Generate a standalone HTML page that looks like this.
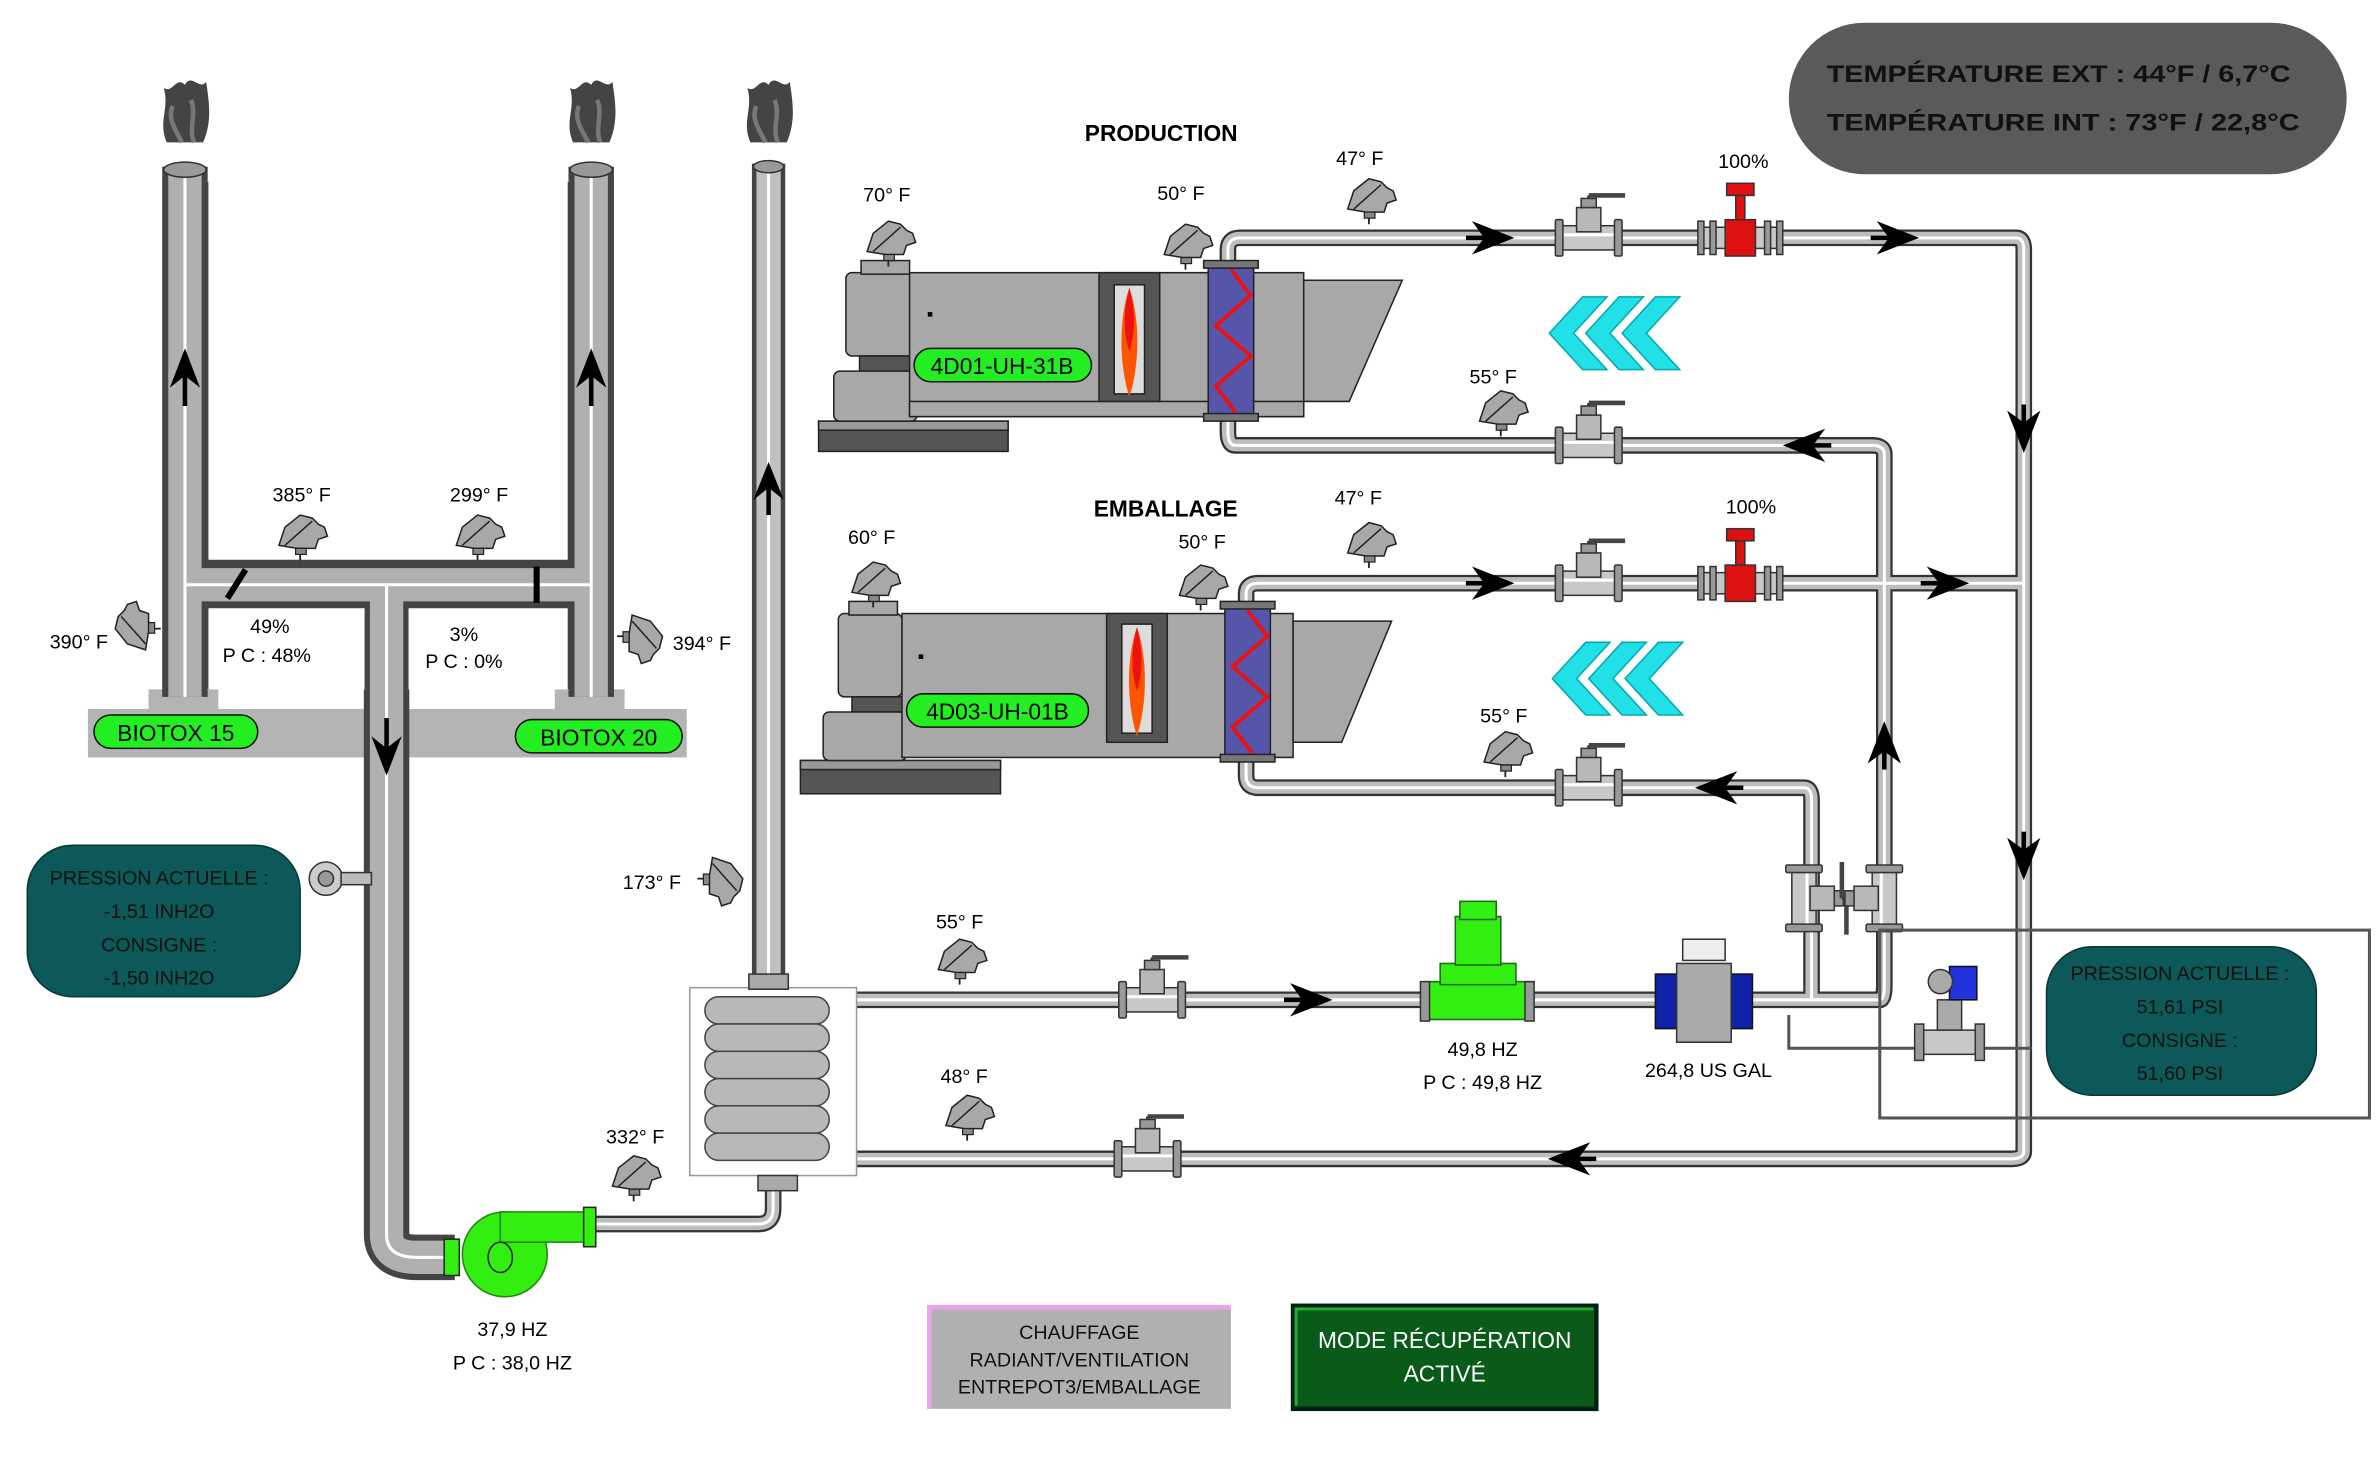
<!DOCTYPE html>
<html><head><meta charset="utf-8"><style>
html,body{margin:0;padding:0;background:#fff}
svg{display:block}
text{font-family:"Liberation Sans",sans-serif}
</style></head><body>
<svg width="2377" height="1477" viewBox="0 0 1568 975" preserveAspectRatio="none" xmlns="http://www.w3.org/2000/svg">
<defs>
<path id="p" d="M390,808 H500 Q510,808 510,798 V780 M565,660 H1240 Q1243,660 1243,650 V300 Q1243,294 1235,294 H815 Q810,294 810,285 V275 M810,175 V165 Q810,157 818,157 H1330 Q1335,157 1335,165 V760 Q1335,765 1327,765 H565 M822,500 V512 Q822,520 830,520 H1190 Q1195,520 1195,528 V660 M822,400 V392 Q822,385 830,385 H1335"/>
<g id="sensor">
<path d="M-14,8 L-10,-4 L0,-12 L8,-10 L12,-6 L16,-4 L18,2 L12,4 L10,10 L-2,10 Z" fill="#a8a8a8" stroke="#222" stroke-width="1"/>
<line x1="-10" y1="8" x2="8" y2="-8" stroke="#222" stroke-width="1"/>
<rect x="-3" y="10" width="7" height="4" fill="#888" stroke="#222" stroke-width="0.8"/>
<line x1="0" y1="14" x2="0" y2="18" stroke="#222" stroke-width="1.2"/>
</g>
<g id="valve">
<rect x="-20" y="-8" width="40" height="16" fill="#c8c8c8" stroke="#333"/>
<line x1="-20" y1="-2" x2="20" y2="-2" stroke="#fff" stroke-width="2"/>
<rect x="-22" y="-12" width="5" height="24" rx="1" fill="#999" stroke="#333"/>
<rect x="17" y="-12" width="5" height="24" rx="1" fill="#999" stroke="#333"/>
<rect x="-8" y="-20" width="16" height="16" fill="#b8b8b8" stroke="#333"/>
<rect x="-5" y="-26" width="10" height="6" fill="#999" stroke="#333"/>
<line x1="0" y1="-26" x2="0" y2="-28" stroke="#333" stroke-width="2"/>
<line x1="0" y1="-28" x2="24" y2="-28" stroke="#444" stroke-width="3"/>
</g>
<g id="redvalve">
<rect x="-26" y="-7" width="52" height="14" fill="#c8c8c8" stroke="#333"/>
<rect x="-28" y="-11" width="4" height="22" fill="#999" stroke="#333"/>
<rect x="-20" y="-11" width="4" height="22" fill="#999" stroke="#333"/>
<rect x="16" y="-11" width="4" height="22" fill="#999" stroke="#333"/>
<rect x="24" y="-11" width="4" height="22" fill="#999" stroke="#333"/>
<rect x="-10" y="-12" width="20" height="24" fill="#dd1111" stroke="#333"/>
<rect x="-3" y="-28" width="6" height="16" fill="#dd1111" stroke="#333"/>
<rect x="-9" y="-36" width="18" height="8" fill="#dd1111" stroke="#333"/>
</g>
<g id="arR"><polygon points="-14,-11 14,0 -14,11 -6,0" fill="#000"/><line x1="-18" y1="0" x2="0" y2="0" stroke="#000" stroke-width="3"/></g>
<g id="smoke"><path d="M-12,44 C-18,30 -10,22 -14,8 C-8,12 -6,0 0,6 C4,-2 10,10 14,4 C16,18 18,30 12,44 Z" fill="#444"/><path d="M-8,20 C-12,28 -6,36 -2,44 M4,16 C8,26 2,34 6,44" stroke="#777" stroke-width="3" fill="none"/></g>
<g id="chev"><polygon points="0,24 22,0 38,0 16,24 38,48 22,48" fill="#22e0e8" stroke="#0aa" stroke-width="1"/></g>
</defs>

<!-- gray base band -->
<rect x="58" y="468" width="395" height="32" fill="#b4b4b4"/>
<rect x="98" y="455" width="46" height="14" fill="#b4b4b4"/>
<rect x="366" y="455" width="46" height="14" fill="#b4b4b4"/>

<!-- ducts -->
<g fill="none" stroke-linejoin="miter">
<path d="M122,460 V110 M390,460 V110 M122,386 H390 M255,386 V815 Q255,830 275,830 H300" stroke="#444" stroke-width="30"/>
<path d="M122,460 V110 M390,460 V110 M122,386 H390 M255,386 V815 Q255,830 275,830 H300" stroke="#b0b0b0" stroke-width="22"/>
<path d="M122,460 V110 M390,460 V110 M122,386 H390 M255,386 V815 Q255,830 275,830 H300" stroke="#fff" stroke-width="2"/>
</g>
<rect x="136" y="400" width="106" height="55" fill="#fff"/>
<rect x="268" y="400" width="108" height="55" fill="#fff"/>
<path d="M136,455 V400 H242 V455 M268,455 V400 H376 V455" fill="none" stroke="#444" stroke-width="3"/>
<rect x="136" y="120" width="240" height="251" fill="#fff"/>
<path d="M136,120 V371 H376 V120" fill="none" stroke="#444" stroke-width="3"/>
<ellipse cx="122" cy="112" rx="14" ry="5" fill="#999" stroke="#333"/>
<ellipse cx="390" cy="112" rx="14" ry="5" fill="#999" stroke="#333"/>
<line x1="150" y1="395" x2="162" y2="376" stroke="#000" stroke-width="4"/>
<line x1="354" y1="374" x2="354" y2="398" stroke="#000" stroke-width="4"/>

<!-- third stack -->
<g fill="none">
<path d="M507,648 V108" stroke="#444" stroke-width="22"/>
<path d="M507,648 V108" stroke="#c0c0c0" stroke-width="16"/>
<path d="M507,648 V108" stroke="#fff" stroke-width="2"/>
</g>
<ellipse cx="507" cy="110" rx="10" ry="4" fill="#999" stroke="#333"/>

<use href="#smoke" x="122" y="50"/>
<use href="#smoke" x="390" y="50"/>
<use href="#smoke" x="507" y="50"/>

<g fill="#000"><polygon points="122,230 112,256 122,248 132,256"/><rect x="120.5" y="248" width="3" height="20"/>
<polygon points="390,230 380,256 390,248 400,256"/><rect x="388.5" y="248" width="3" height="20"/>
<polygon points="507,305 497,330 507,322 517,330"/><rect x="505.5" y="322" width="3" height="18"/>
<polygon points="255,512 245,486 255,494 265,486"/><rect x="253.5" y="474" width="3" height="20"/></g>

<rect x="62" y="472" width="108" height="22" rx="11" fill="#22ee22" stroke="#111"/>
<text x="116" y="489" font-size="15" text-anchor="middle">BIOTOX 15</text>
<rect x="340" y="475" width="110" height="22" rx="11" fill="#22ee22" stroke="#111"/>
<text x="395" y="492" font-size="15" text-anchor="middle">BIOTOX 20</text>

<!-- process pipes -->
<g fill="none" stroke-linejoin="round">
<use href="#p" stroke="#333" stroke-width="11"/>
<use href="#p" stroke="#bdbdbd" stroke-width="8"/>
<use href="#p" stroke="#fff" stroke-width="2"/>
</g>
<path d="M1180,670 V692 H1340" fill="none" stroke="#555" stroke-width="2"/>

<!-- pump -->
<circle cx="333" cy="828" r="28" fill="#33ee11" stroke="#228811"/>
<rect x="330" y="800" width="60" height="20" fill="#33ee11" stroke="#228811"/>
<rect x="293" y="818" width="10" height="24" fill="#33ee11" stroke="#222"/>
<rect x="385" y="797" width="8" height="26" fill="#33ee11" stroke="#222"/>
<ellipse cx="330" cy="830" rx="8" ry="10" fill="#33ee11" stroke="#222"/>
<text x="338" y="882" font-size="13" text-anchor="middle">37,9 HZ</text>
<text x="338" y="904" font-size="13" text-anchor="middle">P C : 38,0 HZ</text>

<!-- heat exchanger -->
<rect x="455" y="652" width="110" height="124" fill="#fff" stroke="#999"/>
<g fill="#b8b8b8" stroke="#444">
<rect x="465" y="658" width="82" height="18" rx="9"/><rect x="465" y="676" width="82" height="18" rx="9"/>
<rect x="465" y="694" width="82" height="18" rx="9"/><rect x="465" y="712" width="82" height="18" rx="9"/>
<rect x="465" y="730" width="82" height="18" rx="9"/><rect x="465" y="748" width="82" height="18" rx="9"/>
</g>
<rect x="494" y="643" width="26" height="10" fill="#aaa" stroke="#333"/>
<rect x="500" y="776" width="26" height="10" fill="#aaa" stroke="#333"/>

<!-- Production unit -->
<g stroke="#222" stroke-width="1">
<rect x="540" y="278" width="125" height="20" fill="#555"/>
<rect x="540" y="278" width="125" height="6" fill="#999"/>
<rect x="558" y="180" width="45" height="55" rx="4" fill="#a8a8a8"/>
<rect x="567" y="235" width="35" height="10" fill="#555"/>
<rect x="550" y="245" width="55" height="33" rx="4" fill="#a8a8a8"/>
<rect x="568" y="172" width="32" height="9" fill="#a8a8a8"/>
<rect x="600" y="180" width="260" height="95" fill="#a8a8a8"/>
<rect x="600" y="265" width="260" height="10" fill="#a8a8a8"/>
<polygon points="860,185 925,185 890,265 860,265" fill="#a8a8a8"/>
<rect x="725" y="180" width="40" height="85" fill="#555"/>
<rect x="735" y="188" width="20" height="72" fill="#ddd"/>
<rect x="797" y="175" width="30" height="100" fill="#5555aa"/>
<rect x="794" y="172" width="36" height="5" fill="#777"/>
<rect x="794" y="273" width="36" height="5" fill="#777"/>
</g>
<path d="M745,190 C738,210 738,240 745,262 C752,240 752,210 745,190Z" fill="#ff5500"/>
<path d="M745,190 C741,205 741,220 745,232 C749,220 749,205 745,190Z" fill="#ee1111"/>
<path d="M812,178 L825,195 L802,215 L825,235 L802,255 L815,272" fill="none" stroke="#ee1111" stroke-width="2.5"/>
<rect x="612" y="206" width="3" height="3" fill="#000"/>
<rect x="603" y="230" width="117" height="22" rx="11" fill="#22ee22" stroke="#111"/>
<text x="661" y="247" font-size="15" text-anchor="middle">4D01-UH-31B</text>

<!-- Emballage unit -->
<g stroke="#222" stroke-width="1">
<rect x="528" y="502" width="132" height="22" fill="#555"/>
<rect x="528" y="502" width="132" height="6" fill="#999"/>
<rect x="553" y="405" width="42" height="55" rx="4" fill="#a8a8a8"/>
<rect x="562" y="460" width="33" height="10" fill="#555"/>
<rect x="543" y="470" width="55" height="32" rx="4" fill="#a8a8a8"/>
<rect x="560" y="397" width="32" height="9" fill="#a8a8a8"/>
<rect x="595" y="405" width="258" height="95" fill="#a8a8a8"/>
<polygon points="853,410 918,410 885,490 853,490" fill="#a8a8a8"/>
<rect x="730" y="405" width="40" height="85" fill="#555"/>
<rect x="740" y="412" width="20" height="72" fill="#ddd"/>
<rect x="808" y="400" width="30" height="100" fill="#5555aa"/>
<rect x="805" y="397" width="36" height="5" fill="#777"/>
<rect x="805" y="498" width="36" height="5" fill="#777"/>
</g>
<path d="M750,414 C743,434 743,464 750,486 C757,464 757,434 750,414Z" fill="#ff5500"/>
<path d="M750,414 C746,429 746,444 750,456 C754,444 754,429 750,414Z" fill="#ee1111"/>
<path d="M823,403 L836,420 L813,440 L836,460 L813,480 L826,497" fill="none" stroke="#ee1111" stroke-width="2.5"/>
<rect x="606" y="432" width="3" height="3" fill="#000"/>
<rect x="598" y="458" width="120" height="22" rx="11" fill="#22ee22" stroke="#111"/>
<text x="658" y="475" font-size="15" text-anchor="middle">4D03-UH-01B</text>

<text x="766" y="93" font-size="15" font-weight="bold" text-anchor="middle">PRODUCTION</text>
<text x="769" y="341" font-size="15" font-weight="bold" text-anchor="middle">EMBALLAGE</text>

<use href="#chev" x="1022" y="196"/><use href="#chev" x="1046" y="196"/><use href="#chev" x="1070" y="196"/>
<use href="#chev" x="1024" y="424"/><use href="#chev" x="1048" y="424"/><use href="#chev" x="1072" y="424"/>

<use href="#valve" x="1048" y="157"/>
<use href="#valve" x="1048" y="294"/>
<use href="#valve" x="1048" y="385"/>
<use href="#valve" x="1048" y="520"/>
<use href="#valve" x="760" y="660"/>
<use href="#valve" x="757" y="765"/>
<use href="#redvalve" x="1148" y="157"/>
<use href="#redvalve" x="1148" y="385"/>
<g transform="translate(1190,593) rotate(90)"><use href="#valve"/></g>
<g transform="translate(1243,593) rotate(-90)"><use href="#valve"/></g>

<use href="#arR" x="985" y="157"/>
<use href="#arR" x="1252" y="157"/>
<use href="#arR" x="985" y="385"/>
<use href="#arR" x="1285" y="385"/>
<use href="#arR" x="865" y="660"/>
<use href="#arR" transform="translate(1190,294) rotate(180)"/>
<use href="#arR" transform="translate(1132,520) rotate(180)"/>
<use href="#arR" transform="translate(1035,765) rotate(180)"/>
<use href="#arR" transform="translate(1335,285) rotate(90)"/>
<use href="#arR" transform="translate(1335,567) rotate(90)"/>
<use href="#arR" transform="translate(1243,490) rotate(-90)"/>

<g stroke="#1a6a1a">
<rect x="940" y="648" width="70" height="25" fill="#33ee11"/>
<rect x="950" y="636" width="50" height="14" fill="#33ee11"/>
<rect x="960" y="605" width="30" height="32" fill="#33ee11"/>
<rect x="963" y="595" width="24" height="12" fill="#33ee11"/>
</g>
<rect x="937" y="648" width="6" height="26" fill="#999" stroke="#333"/>
<rect x="1006" y="648" width="6" height="26" fill="#999" stroke="#333"/>
<text x="978" y="697" font-size="13" text-anchor="middle">49,8 HZ</text>
<text x="978" y="719" font-size="13" text-anchor="middle">P C : 49,8 HZ</text>

<rect x="1092" y="643" width="14" height="36" fill="#1122aa" stroke="#111"/>
<rect x="1142" y="643" width="14" height="36" fill="#1122aa" stroke="#111"/>
<rect x="1106" y="636" width="36" height="52" fill="#aaa" stroke="#333"/>
<rect x="1110" y="620" width="28" height="14" fill="#eee" stroke="#333"/>
<text x="1127" y="711" font-size="13" text-anchor="middle">264,8 US GAL</text>

<rect x="1266" y="680" width="40" height="16" fill="#c8c8c8" stroke="#333"/>
<rect x="1263" y="676" width="6" height="24" fill="#999" stroke="#333"/>
<rect x="1303" y="676" width="6" height="24" fill="#999" stroke="#333"/>
<rect x="1278" y="660" width="16" height="20" fill="#aaa" stroke="#333"/>
<rect x="1286" y="638" width="18" height="22" fill="#2233dd" stroke="#111"/>
<circle cx="1280" cy="648" r="8" fill="#aaa" stroke="#333"/>
<rect x="1240" y="614" width="323" height="124" fill="none" stroke="#555" stroke-width="2"/>

<use href="#sensor" x="586" y="158"/>
<use href="#sensor" x="782" y="160"/>
<use href="#sensor" x="903" y="130"/>
<use href="#sensor" x="990" y="270"/>
<use href="#sensor" x="576" y="383"/>
<use href="#sensor" x="792" y="385"/>
<use href="#sensor" x="903" y="357"/>
<use href="#sensor" x="993" y="495"/>
<use href="#sensor" x="198" y="352"/>
<use href="#sensor" x="315" y="352"/>
<use href="#sensor" x="633" y="632"/>
<use href="#sensor" x="638" y="735"/>
<use href="#sensor" x="418" y="775"/>
<g transform="translate(88,415) rotate(-90)"><use href="#sensor"/></g>
<g transform="translate(425,420) rotate(90)"><use href="#sensor"/></g>
<g transform="translate(478,580) rotate(90)"><use href="#sensor"/></g>
<circle cx="215" cy="580" r="11" fill="#ccc" stroke="#333"/>
<circle cx="215" cy="580" r="5" fill="#999" stroke="#333"/>
<rect x="225" y="576" width="20" height="8" fill="#bbb" stroke="#333"/>

<g font-size="13" text-anchor="middle">
<text x="585" y="133">70° F</text>
<text x="779" y="132">50° F</text>
<text x="897" y="109">47° F</text>
<text x="985" y="253">55° F</text>
<text x="575" y="359">60° F</text>
<text x="793" y="362">50° F</text>
<text x="896" y="333">47° F</text>
<text x="992" y="477">55° F</text>
<text x="1150" y="111">100%</text>
<text x="1155" y="339">100%</text>
<text x="199" y="331">385° F</text>
<text x="316" y="331">299° F</text>
<text x="52" y="428">390° F</text>
<text x="463" y="429">394° F</text>
<text x="430" y="587">173° F</text>
<text x="633" y="613">55° F</text>
<text x="636" y="715">48° F</text>
<text x="419" y="755">332° F</text>
<text x="178" y="418">49%</text>
<text x="176" y="437">P C : 48%</text>
<text x="306" y="423">3%</text>
<text x="306" y="441">P C : 0%</text>
</g>

<rect x="1180" y="15" width="368" height="100" rx="50" fill="#5a5a5a"/>
<text x="1205" y="54" font-size="16" font-weight="bold" fill="#111" textLength="306" lengthAdjust="spacingAndGlyphs">TEMPÉRATURE EXT : 44°F / 6,7°C</text>
<text x="1205" y="86" font-size="16" font-weight="bold" fill="#111" textLength="312" lengthAdjust="spacingAndGlyphs">TEMPÉRATURE INT : 73°F / 22,8°C</text>

<rect x="18" y="558" width="180" height="100" rx="30" fill="#0d5858" stroke="#083838"/>
<g font-size="13" fill="#111" text-anchor="middle">
<text x="105" y="584">PRESSION ACTUELLE :</text>
<text x="105" y="606">-1,51 INH2O</text>
<text x="105" y="628">CONSIGNE :</text>
<text x="105" y="650">-1,50 INH2O</text>
</g>
<rect x="1350" y="625" width="178" height="98" rx="30" fill="#0d5858" stroke="#083838"/>
<g font-size="13" fill="#111" text-anchor="middle">
<text x="1438" y="647">PRESSION ACTUELLE :</text>
<text x="1438" y="669">51,61 PSI</text>
<text x="1438" y="691">CONSIGNE :</text>
<text x="1438" y="713">51,60 PSI</text>
</g>

<rect x="612" y="862" width="200" height="68" fill="#b0b0b0"/>
<path d="M613,930 V863 H812" fill="none" stroke="#f0a0f0" stroke-width="3"/>
<g font-size="13" text-anchor="middle" fill="#111">
<text x="712" y="884">CHAUFFAGE</text>
<text x="712" y="902">RADIANT/VENTILATION</text>
<text x="712" y="920">ENTREPOT3/EMBALLAGE</text>
</g>
<rect x="853" y="862" width="200" height="68" fill="#0a5a1a" stroke="#021" stroke-width="3"/>
<path d="M855,928 V864 H1051" fill="none" stroke="#22aa33" stroke-width="2"/>
<text x="953" y="890" font-size="15" text-anchor="middle" fill="#fff">MODE RÉCUPÉRATION</text>
<text x="953" y="912" font-size="15" text-anchor="middle" fill="#fff">ACTIVÉ</text>
</svg>
</body></html>
